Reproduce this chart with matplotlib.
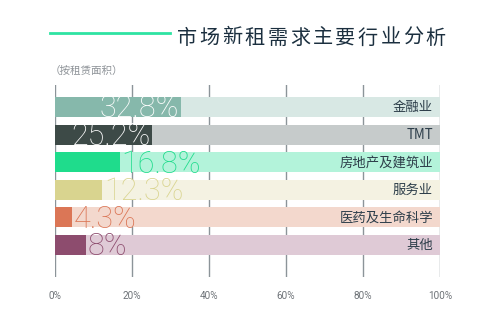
import matplotlib.pyplot as plt

# data
categories = ['金融业', 'TMT', '房地产及建筑业', '服务业', '医药及生命科学', '其他']
values = [32.8, 25.2, 16.8, 12.3, 4.3, 8]
labels = ['32.8%', '25.2%', '16.8%', '12.3%', '4.3%', '8%']
dark_colors = ['#86b8ab', '#3d4a47', '#1fdc8c', '#d9d48f', '#db7656', '#8d4c6e']
light_colors = ['#d8e8e4', '#c6cbcb', '#b3f3da', '#f4f2e2', '#f3d8cd', '#dfcad6']
ticks = [0, 20, 40, 60, 80, 100]
tick_labels = ['0%', '20%', '40%', '60%', '80%', '100%']
title = '市场新租需求主要行业分析'

plt.rcParams['font.family'] = ['Noto Sans CJK SC', 'DejaVu Sans']
num_font = ['Roboto', 'DejaVu Sans']

fig = plt.figure(figsize=(5, 3.25), dpi=100)
W, H = 500, 325
ax = fig.add_axes([55 / W, 1 - 277 / H, 385 / W, 192 / H])

# title with green line, chars spaced out a bit
fig.add_artist(plt.Line2D([50 / W, 170 / W], [1 - 33 / H, 1 - 33 / H], color='#2ee3a2', lw=2))
for k, ch in enumerate(title):
    fig.text((177 + 22.6 * k) / W, 1 - 38 / H, ch, fontsize=14.5, color='#1b2f3f',
             va='center', ha='left')
fig.text(50 / W, 1 - 71 / H, '（按租赁面积）', fontsize=7.6, color='#8e9398', va='center', ha='left')

y = list(range(len(categories)))
# background bars and value bars
ax.barh(y, [100] * len(y), height=0.725, color=light_colors, zorder=2)
ax.barh(y, values, height=0.725, color=dark_colors, zorder=3)

for i in y:
    v = values[i]
    if v > 20:
        ax.text(v - 0.5, i + 0.07, labels[i], ha='right', va='center', color='white',
                fontsize=22, family=num_font, fontweight='light', zorder=4)
    else:
        ax.text(v + 0.5, i + 0.07, labels[i], ha='left', va='center', color=dark_colors[i],
                fontsize=22, family=num_font, fontweight='light', zorder=4)
    ax.text(98.2, i, categories[i], ha='right', va='center', color='#2d3e4a', fontsize=9.6, zorder=4)

for t in ticks:
    ax.axvline(t, color='#8c9499', lw=1, zorder=1)

ax.set_xlim(0, 100)
ax.set_ylim(5 + 1.159, -0.797)
ax.set_xticks(ticks)
ax.set_xticklabels(tick_labels, fontsize=7.2, color='#6e7378', family=num_font)
ax.tick_params(axis='x', length=0, pad=10)
ax.set_yticks([])
for s in ax.spines.values():
    s.set_visible(False)

fig.savefig('out.png', dpi=100)
